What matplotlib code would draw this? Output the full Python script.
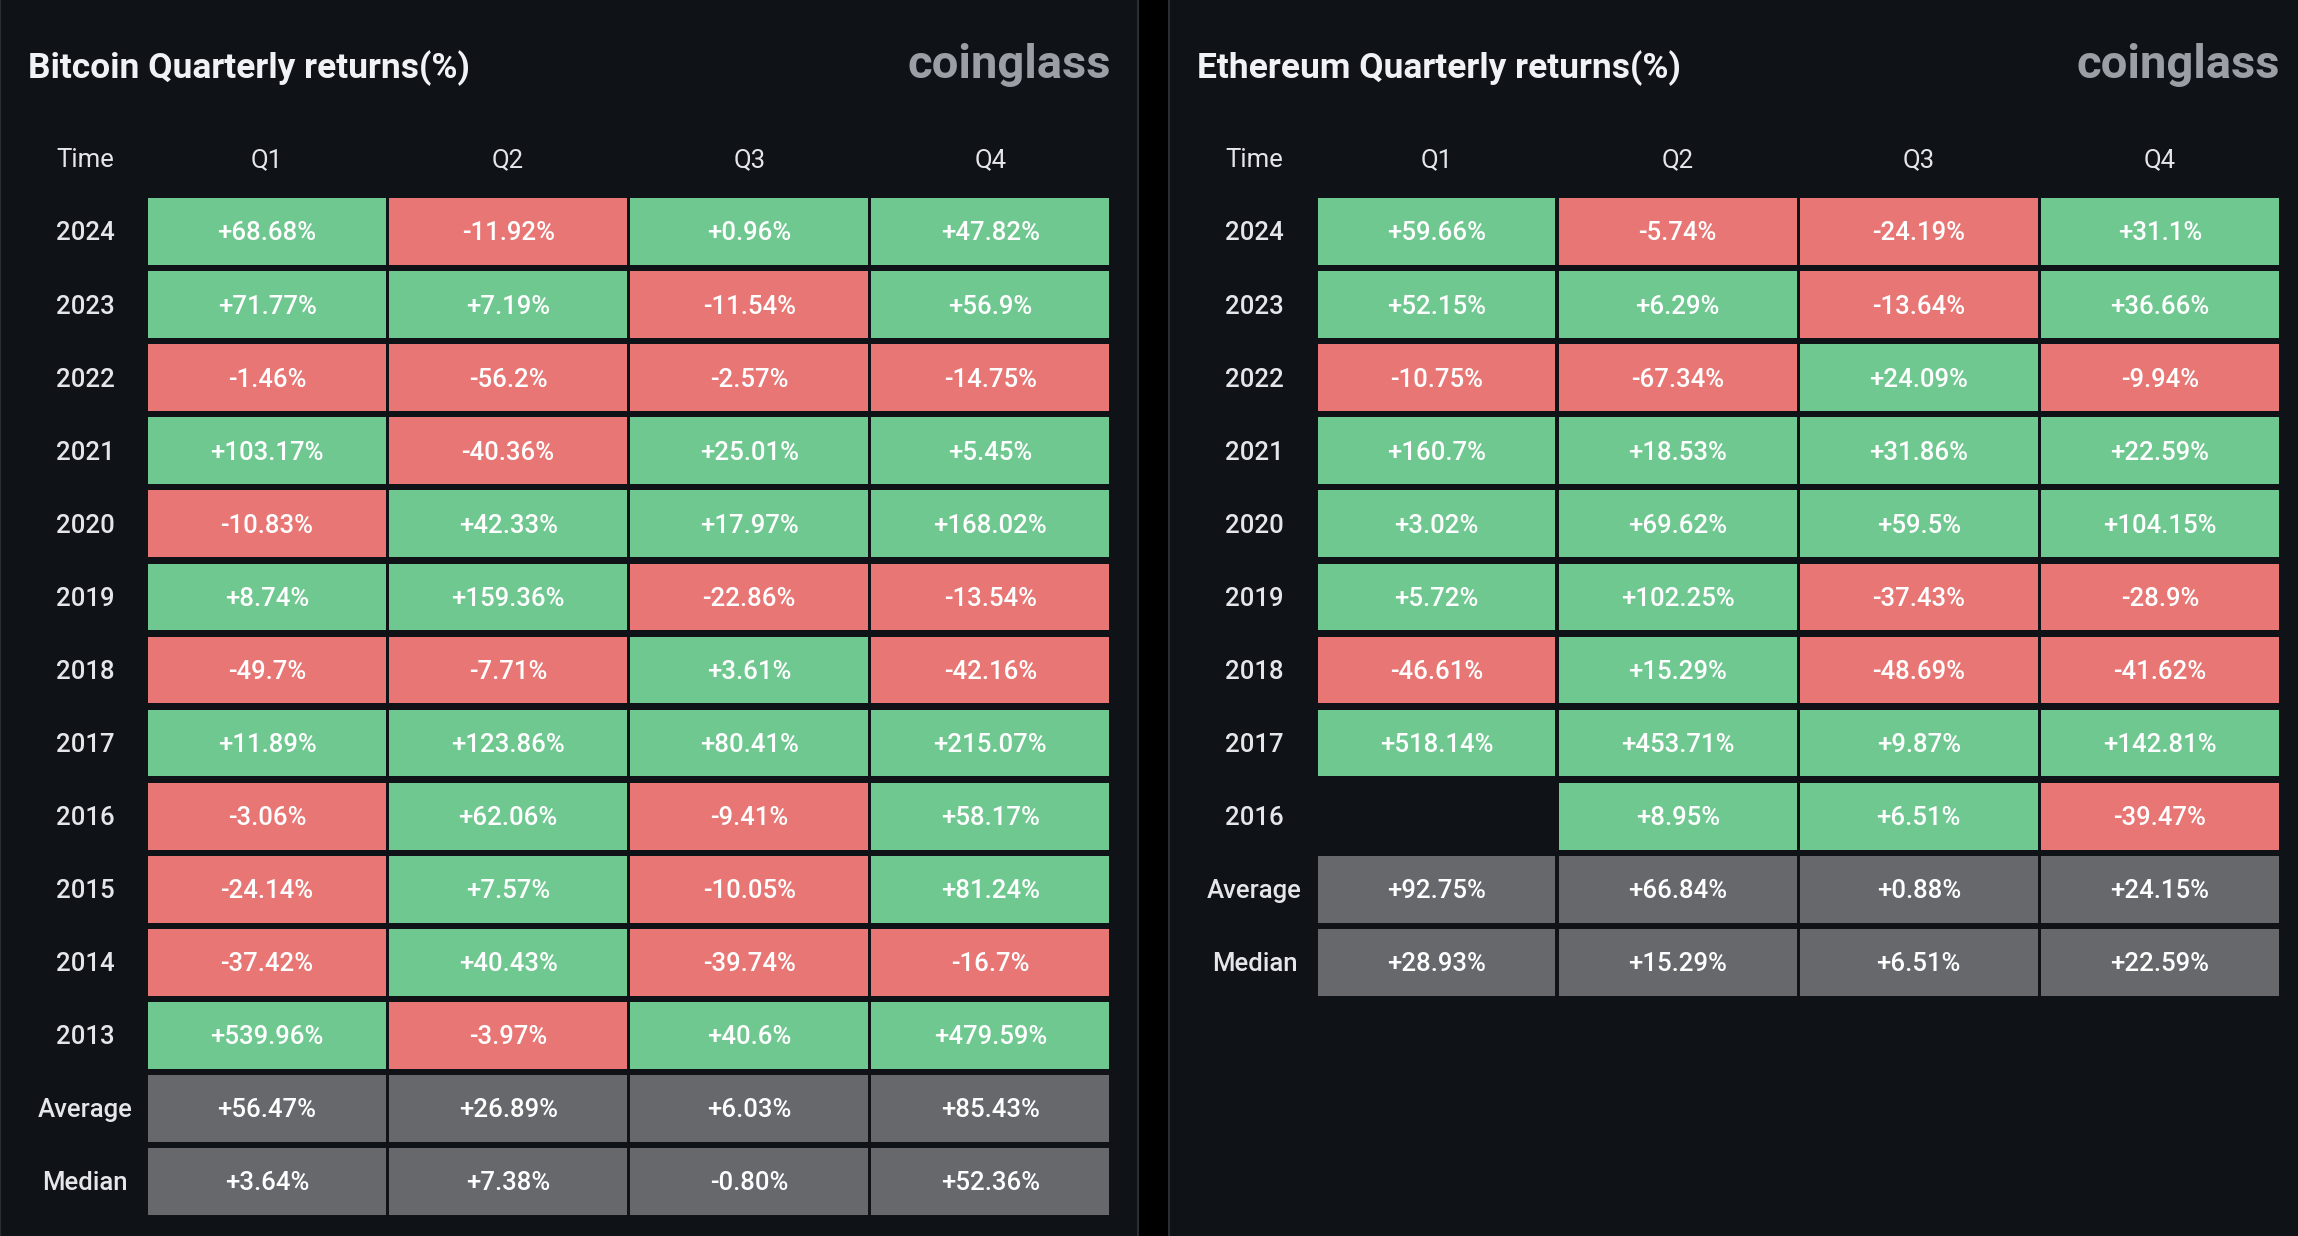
import matplotlib
matplotlib.use("Agg")
import matplotlib.pyplot as plt
from matplotlib.patches import Rectangle

plt.rcParams['font.family'] = ['Roboto', 'DejaVu Sans']

quarters = ["Q1", "Q2", "Q3", "Q4"]

btc_rows = ["2024", "2023", "2022", "2021", "2020", "2019", "2018", "2017",
            "2016", "2015", "2014", "2013", "Average", "Median"]
btc_q1 = ["+68.68%", "+71.77%", "-1.46%", "+103.17%", "-10.83%", "+8.74%", "-49.7%",
          "+11.89%", "-3.06%", "-24.14%", "-37.42%", "+539.96%", "+56.47%", "+3.64%"]
btc_q2 = ["-11.92%", "+7.19%", "-56.2%", "-40.36%", "+42.33%", "+159.36%", "-7.71%",
          "+123.86%", "+62.06%", "+7.57%", "+40.43%", "-3.97%", "+26.89%", "+7.38%"]
btc_q3 = ["+0.96%", "-11.54%", "-2.57%", "+25.01%", "+17.97%", "-22.86%", "+3.61%",
          "+80.41%", "-9.41%", "-10.05%", "-39.74%", "+40.6%", "+6.03%", "-0.80%"]
btc_q4 = ["+47.82%", "+56.9%", "-14.75%", "+5.45%", "+168.02%", "-13.54%", "-42.16%",
          "+215.07%", "+58.17%", "+81.24%", "-16.7%", "+479.59%", "+85.43%", "+52.36%"]

eth_rows = ["2024", "2023", "2022", "2021", "2020", "2019", "2018", "2017",
            "2016", "Average", "Median"]
eth_q1 = ["+59.66%", "+52.15%", "-10.75%", "+160.7%", "+3.02%", "+5.72%", "-46.61%",
          "+518.14%", "", "+92.75%", "+28.93%"]
eth_q2 = ["-5.74%", "+6.29%", "-67.34%", "+18.53%", "+69.62%", "+102.25%", "+15.29%",
          "+453.71%", "+8.95%", "+66.84%", "+15.29%"]
eth_q3 = ["-24.19%", "-13.64%", "+24.09%", "+31.86%", "+59.5%", "-37.43%", "-48.69%",
          "+9.87%", "+6.51%", "+0.88%", "+6.51%"]
eth_q4 = ["+31.1%", "+36.66%", "-9.94%", "+22.59%", "+104.15%", "-28.9%", "-41.62%",
          "+142.81%", "-39.47%", "+24.15%", "+22.59%"]

GREEN = "#70c891"
RED = "#e77674"
GRAY = "#67686b"
PANEL = "#0f1217"
EDGE = "#2a2d33"
TXT = "#e4e6ea"

W, H = 1568.0, 843.3
fig = plt.figure(figsize=(22.98, 12.36), dpi=100, facecolor="#000000")

# panel backgrounds
fig.patches.append(Rectangle((0, -0.01), 776.5 / W, 1.02, transform=fig.transFigure,
                             facecolor=PANEL, edgecolor=EDGE, linewidth=1.5, zorder=-10))
fig.patches.append(Rectangle((797.5 / W, -0.01), 1 - 797.5 / W + 0.01, 1.02,
                             transform=fig.transFigure,
                             facecolor=PANEL, edgecolor=EDGE, linewidth=1.5, zorder=-10))


def draw_panel(x0, title, rows, cols):
    nrows = len(rows)
    pitch = 49.85
    top = 133.1
    left = x0 + 100
    width = 658
    ax = fig.add_axes([left / W, 1 - (top + nrows * pitch) / H, width / W, nrows * pitch / H])
    ax.set_zorder(5)
    ax.set_xlim(0, 4)
    ax.set_ylim(nrows, 0)
    ax.axis("off")
    gx, gy = 0.014, 0.085
    dy = 0.025
    for ci, col in enumerate(cols):
        for ri, s in enumerate(col):
            if s == "":
                continue
            if rows[ri] in ("Average", "Median"):
                fc = GRAY
            else:
                fc = GREEN if float(s.rstrip("%")) >= 0 else RED
            ax.add_patch(Rectangle((ci + gx / 2, ri + gy / 2), 1 - gx, 1 - gy,
                                   facecolor=fc, edgecolor="none"))
            ax.text(ci + 0.5, ri + 0.5 + dy, s, ha="center", va="center",
                    color="#ffffff", fontsize=18.5, fontweight="medium")
    for ri, lab in enumerate(rows):
        ax.text(-0.255, ri + 0.5 + dy, lab, ha="center", va="center", color=TXT,
                fontsize=18.5, fontweight="medium", clip_on=False)
    ax.text(-0.255, -0.5 + dy, "Time", ha="center", va="center", color=TXT,
            fontsize=18.5, clip_on=False)
    for ci, q in enumerate(quarters):
        ax.text(ci + 0.5, -0.5 + dy, q, ha="center", va="center", color=TXT,
                fontsize=18.5, clip_on=False)
    fig.text((x0 + 19) / W, 1 - 46.5 / H, title, ha="left", va="center",
             color="#f0f2f5", fontsize=25.5, fontweight="bold", zorder=6)
    fig.text((x0 + 758) / W, 1 - 44.5 / H, "coinglass", ha="right", va="center",
             color="#9b9fa5", fontsize=34, fontweight="bold", zorder=6)


draw_panel(0, "Bitcoin Quarterly returns(%)", btc_rows, [btc_q1, btc_q2, btc_q3, btc_q4])
draw_panel(798, "Ethereum Quarterly returns(%)", eth_rows, [eth_q1, eth_q2, eth_q3, eth_q4])

fig.savefig("out.png", dpi=100, facecolor=fig.get_facecolor())
